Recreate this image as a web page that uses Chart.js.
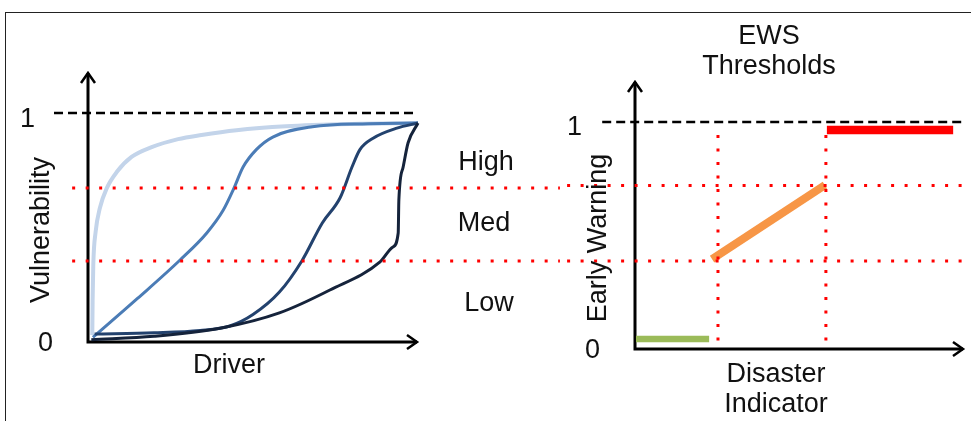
<!DOCTYPE html>
<html>
<head>
<meta charset="utf-8">
<script src="https://cdn.jsdelivr.net/npm/chart.js@4.4.1/dist/chart.umd.min.js"></script>
<style>
html, body { margin: 0; padding: 0; background: #fff; width: 971px; height: 421px; overflow: hidden; }
body { position: relative; }
#frame { position: absolute; left: 5px; top: 12px; width: 980px; height: 420px; border-top: 1.5px solid #222; border-left: 1.5px solid #222; }
#left { position: absolute; left: 0; top: 0; }
#right { position: absolute; left: 560px; top: 0; }
</style>
</head>
<body>
<div id="frame"></div>
<canvas id="left" width="560" height="421" style="width:560px;height:421px"></canvas>
<canvas id="right" width="411" height="421" style="width:411px;height:421px"></canvas>
<script>
// ---- left panel: vulnerability curves vs driver ----
const curveLightX = [0.013, 0.014, 0.016, 0.023, 0.036, 0.057, 0.087, 0.132, 0.193, 0.273, 0.344, 0.45, 0.6, 0.8, 1];
const curveLightY = [0.03, 0.18, 0.336, 0.48, 0.585, 0.672, 0.742, 0.808, 0.851, 0.886, 0.904, 0.925, 0.942, 0.952, 0.956];

const curveMidX = [0.015, 0.15, 0.279, 0.36, 0.41, 0.44, 0.47, 0.51, 0.56, 0.68, 0.85, 1];
const curveMidY = [0.02, 0.19, 0.358, 0.476, 0.576, 0.664, 0.764, 0.84, 0.895, 0.94, 0.953, 0.956];

const curveDarkX = [0.02, 0.2, 0.34, 0.43, 0.5, 0.58, 0.648, 0.71, 0.764, 0.80, 0.824, 0.864, 0.936, 1];
const curveDarkY = [0.035, 0.04, 0.05, 0.07, 0.12, 0.218, 0.354, 0.52, 0.63, 0.764, 0.84, 0.89, 0.934, 0.956];

const curveNavyX = [0.01, 0.2, 0.4, 0.58, 0.733, 0.885, 0.924, 0.94, 0.942, 0.955, 0.97, 1];
const curveNavyY = [0.01, 0.025, 0.06, 0.127, 0.227, 0.35, 0.415, 0.476, 0.62, 0.764, 0.87, 0.956];

const leftThresholds = [0.354, 0.672];
const leftLevelNames = ['Low', 'Med', 'High'];

// ---- right panel: early warning vs disaster indicator ----
const greenX = [0.003, 0.226], greenY = [0.044, 0.044];
const orangeX = [0.235, 0.579], orangeY = [0.396, 0.722];
const redX = [0.585, 0.97], redY = [0.965, 0.965];
const rightThresholds = [0.388, 0.72];
const indicatorCuts = [0.253, 0.582];

const tickValues = [0, 1];
const tickLabels = ['0', '1'];

const FONT = '27px "Liberation Sans", Arial, Helvetica, sans-serif';

function toPoints(xs, ys) {
    return xs.map((x, i) => ({ x: x, y: ys[i] }));
}

function curve(xs, ys, color, width) {
    return { data: toPoints(xs, ys), borderColor: color, borderWidth: width, cubicInterpolationMode: 'monotone', pointRadius: 0, clip: false };
}

function segment(xs, ys, color, width) {
    return { data: toPoints(xs, ys), borderColor: color, borderWidth: width, tension: 0, pointRadius: 0, clip: false, borderCapStyle: 'butt' };
}

function dashed(xs, ys) {
    return { data: toPoints(xs, ys), borderColor: '#000', borderWidth: 2.5, borderDash: [9, 5], pointRadius: 0, clip: false };
}

function dotted(xs, ys) {
    return { data: toPoints(xs, ys), borderColor: '#ff0000', borderWidth: 3, borderDash: [3, 10.5], pointRadius: 0, clip: false };
}

// axes with arrow heads, tick labels and free text
const axisDecor = {
    id: 'axisDecor',
    beforeDatasetsDraw(chart, args, opts) {
        const ctx = chart.ctx;
        const a = chart.chartArea;
        ctx.save();
        ctx.strokeStyle = '#000';
        ctx.lineWidth = 3;
        ctx.beginPath();
        ctx.moveTo(a.left, opts.yTip);
        ctx.lineTo(a.left, a.bottom);
        ctx.lineTo(opts.xTip, a.bottom);
        ctx.stroke();
        ctx.lineWidth = 2.5;
        ctx.beginPath();
        ctx.moveTo(a.left - 7, opts.yTip + 10);
        ctx.lineTo(a.left, opts.yTip);
        ctx.lineTo(a.left + 7, opts.yTip + 10);
        ctx.moveTo(opts.xTip - 10, a.bottom - 7);
        ctx.lineTo(opts.xTip, a.bottom);
        ctx.lineTo(opts.xTip - 10, a.bottom + 7);
        ctx.stroke();
        ctx.restore();
    },
    afterDraw(chart, args, opts) {
        const ctx = chart.ctx;
        const a = chart.chartArea;
        const y = chart.scales.y;
        ctx.save();
        ctx.fillStyle = '#111';
        ctx.font = FONT;
        ctx.textAlign = 'center';
        ctx.textBaseline = 'middle';
        tickValues.forEach((v, i) => {
            const off = v === 1 ? -60.5 : -42.5;
            ctx.fillText(tickLabels[i], a.left + off, y.getPixelForValue(v) + (v === 1 ? opts.oneDrop : 2));
        });
        opts.texts.forEach(t => {
            ctx.save();
            ctx.translate(t.x, t.y);
            if (t.rot) ctx.rotate(-Math.PI / 2);
            ctx.fillText(t.text, 0, 0);
            ctx.restore();
        });
        ctx.restore();
    }
};

function baseOptions(padding, decor) {
    return {
        responsive: false,
        animation: false,
        layout: { padding: padding },
        scales: {
            x: { type: 'linear', min: 0, max: 1, display: false },
            y: { type: 'linear', min: 0, max: 1, display: false }
        },
        plugins: { legend: { display: false }, tooltip: { enabled: false }, axisDecor: decor }
    };
}

new Chart(document.getElementById('left'), {
    type: 'line',
    data: {
        datasets: [
            dashed([-0.103, 1.0], [1, 1]),
            dotted([-0.048, 1.43], [leftThresholds[0], leftThresholds[0]]),
            dotted([-0.048, 1.43], [leftThresholds[1], leftThresholds[1]]),
            curve(curveNavyX, curveNavyY, '#15233b', 3),
            curve(curveDarkX, curveDarkY, '#23426e', 3),
            curve(curveMidX, curveMidY, '#4b7cb6', 3),
            curve(curveLightX, curveLightY, '#c3d4ea', 4)
        ]
    },
    options: baseOptions({ left: 88, right: 142, top: 113, bottom: 79 }, {
        yTip: 73, xTip: 417, oneDrop: 7,
        texts: [
            { text: 'Vulnerability', x: 42, y: 230, rot: true },
            { text: 'Driver', x: 229, y: 366 },
            { text: leftLevelNames[2], x: 486, y: 163 },
            { text: leftLevelNames[1], x: 484, y: 224 },
            { text: leftLevelNames[0], x: 489, y: 304 }
        ]
    }),
    plugins: [axisDecor]
});

new Chart(document.getElementById('right'), {
    type: 'line',
    data: {
        datasets: [
            dashed([-0.1, 1.006], [1, 1]),
            dotted([-0.207, 1.02], [rightThresholds[0], rightThresholds[0]]),
            dotted([-0.207, 1.02], [rightThresholds[1], rightThresholds[1]]),
            dotted([indicatorCuts[0], indicatorCuts[0]], [0.943, 0]),
            dotted([indicatorCuts[1], indicatorCuts[1]], [0.943, 0]),
            segment(greenX, greenY, '#9bbb59', 6.5),
            segment(orangeX, orangeY, '#f79646', 8),
            segment(redX, redY, '#ff0000', 8.5)
        ]
    },
    options: baseOptions({ left: 75, right: 8, top: 122, bottom: 72 }, {
        yTip: 82, xTip: 403, oneDrop: 6,
        texts: [
            { text: 'EWS', x: 209, y: 37 },
            { text: 'Thresholds', x: 209, y: 67 },
            { text: 'Early Warning', x: 39, y: 238, rot: true },
            { text: 'Disaster', x: 216, y: 375 },
            { text: 'Indicator', x: 216, y: 405 }
        ]
    }),
    plugins: [axisDecor]
});
</script>
</body>
</html>
